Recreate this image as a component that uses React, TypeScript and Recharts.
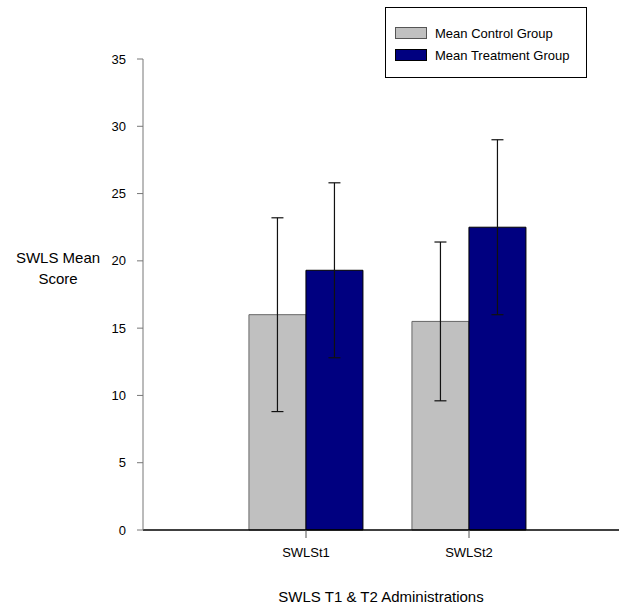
import React from "react";
import { BarChart, Bar, XAxis, YAxis, ErrorBar, Legend } from "recharts";

const FONT = "'Liberation Sans', Arial, sans-serif";

const categories = ["SWLSt1", "SWLSt2"];
const controlMeans = [16.0, 15.5];
const controlSd = [7.2, 5.9];
const treatmentMeans = [19.3, 22.5];
const treatmentSd = [6.5, 6.5];
const yTicks = [0, 5, 10, 15, 20, 25, 30, 35];

const data = categories.map((name, i) => ({
  name,
  control: controlMeans[i],
  controlErr: controlSd[i],
  treatment: treatmentMeans[i],
  treatmentErr: treatmentSd[i],
}));

const legendItems = [
  { label: "Mean Control Group", color: "#C0C0C0", border: "#555" },
  { label: "Mean Treatment Group", color: "#000080", border: "#000" },
];

function LegendBox() {
  return (
    <div
      style={{
        border: "1px solid #000",
        background: "#fff",
        width: 202,
        height: 71,
        boxSizing: "border-box",
        padding: "14px 0 0 9px",
        fontFamily: FONT,
        fontSize: 13,
        color: "#000",
      }}
    >
      {legendItems.map((it) => (
        <div key={it.label} style={{ display: "flex", alignItems: "center", height: 22 }}>
          <span
            style={{
              display: "inline-block",
              width: 32,
              height: 12,
              background: it.color,
              border: `1px solid ${it.border}`,
              boxSizing: "border-box",
              marginRight: 8,
            }}
          />
          <span>{it.label}</span>
        </div>
      ))}
    </div>
  );
}

function YLabel() {
  return (
    <text x={58} textAnchor="middle" fontSize={15} fontFamily={FONT} fill="#000">
      <tspan x={58} y={263}>SWLS Mean</tspan>
      <tspan x={58} y={284}>Score</tspan>
    </text>
  );
}

export default function App() {
  return (
    <div style={{ position: "absolute", left: 0, top: 0, background: "#fff" }}>
      <BarChart
        width={619}
        height={608}
        data={data}
        margin={{ top: 59, right: 0, bottom: 0, left: 0 }}
        barCategoryGap="15%"
        barGap={0}
        style={{ fontFamily: FONT }}
      >
        <XAxis
          dataKey="name"
          height={78}
          padding={{ left: 81.5, right: 68.5 }}
          axisLine={{ stroke: "#000", strokeWidth: 1.5 }}
          tickLine={{ stroke: "#555" }}
          tickSize={8}
          tickMargin={10}
          tick={{ fontSize: 13, fill: "#000", fontFamily: FONT }}
          label={{
            value: "SWLS T1 & T2 Administrations",
            position: "insideBottom",
            offset: 6,
            fontSize: 15,
            fill: "#000",
            fontFamily: FONT,
          }}
        />
        <YAxis
          width={143}
          domain={[0, 35]}
          ticks={yTicks}
          interval={0}
          axisLine={{ stroke: "#777" }}
          tickLine={{ stroke: "#777" }}
          tickSize={6}
          tickMargin={11}
          tick={{ fontSize: 13, fill: "#000", fontFamily: FONT }}
          label={{ content: () => <YLabel /> }}
        />
        <Legend
          layout="vertical"
          align="center"
          verticalAlign="middle"
          wrapperStyle={{ left: 385, top: 7, width: 202, height: 71 }}
          content={() => <LegendBox />}
        />
        <Bar dataKey="control" fill="#C0C0C0" stroke="#666" strokeWidth={1} isAnimationActive={false}>
          <ErrorBar dataKey="controlErr" width={6} stroke="#111" strokeWidth={1.2} />
        </Bar>
        <Bar dataKey="treatment" fill="#000080" stroke="#000" strokeWidth={1} isAnimationActive={false}>
          <ErrorBar dataKey="treatmentErr" width={6} stroke="#111" strokeWidth={1.2} />
        </Bar>
      </BarChart>
    </div>
  );
}
